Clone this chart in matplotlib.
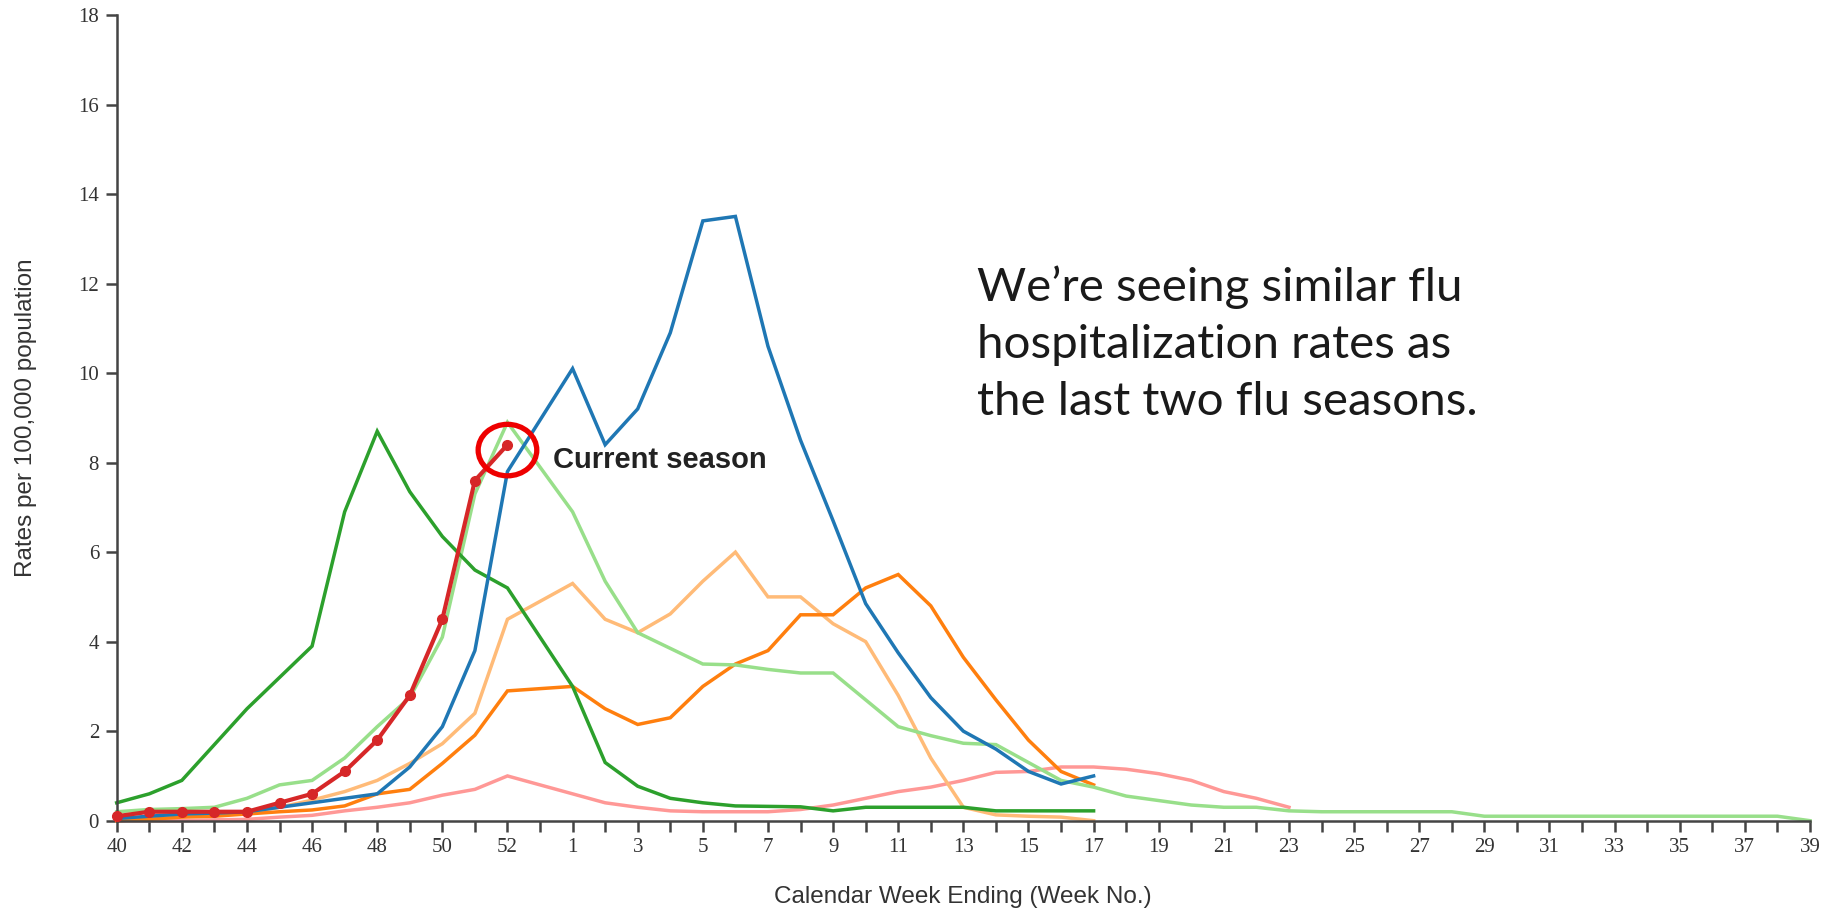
import numpy as np
import matplotlib
matplotlib.use("Agg")
import matplotlib.pyplot as plt
from matplotlib.patches import Ellipse

# x positions: weeks 40..53, 1..39 (53 slots)
weeks = list(range(40, 54)) + list(range(1, 40))

current = [0.1, 0.2, 0.2, 0.2, 0.2, 0.4, 0.6, 1.1, 1.8, 2.8, 4.5, 7.6, 8.4]

dark_green = [0.4, 0.6, 0.9, 1.7, 2.5, 3.2, 3.9, 6.9, 8.7, 7.35, 6.35, 5.6, 5.2, 4.1, 3.0,
              1.3, 0.77, 0.5, 0.4, 0.33, 0.32, 0.31, 0.22, 0.3, 0.3, 0.3, 0.3, 0.22, 0.22, 0.22, 0.22]

blue = [0.05, 0.1, 0.15, 0.17, 0.2, 0.3, 0.4, 0.5, 0.6, 1.2, 2.1, 3.8, 7.8, 8.95, 10.1,
        8.4, 9.2, 10.9, 13.4, 13.5, 10.6, 8.5, 6.7, 4.85, 3.75, 2.75, 2.0, 1.6, 1.1, 0.82, 1.0]

light_green = [0.2, 0.25, 0.27, 0.3, 0.5, 0.8, 0.9, 1.4, 2.1, 2.75, 4.1, 7.3, 8.9, 7.9, 6.9,
               5.35, 4.2, 3.85, 3.5, 3.48, 3.38, 3.3, 3.3, 2.7, 2.1, 1.9, 1.73, 1.7, 1.3, 0.9,
               0.75, 0.55, 0.45, 0.35, 0.3, 0.3, 0.22, 0.2, 0.2, 0.2, 0.2, 0.2, 0.1, 0.1, 0.1,
               0.1, 0.1, 0.1, 0.1, 0.1, 0.1, 0.1, 0.0]

light_orange = [0.02, 0.05, 0.1, 0.12, 0.18, 0.3, 0.46, 0.65, 0.9, 1.28, 1.72, 2.4, 4.5, 4.9, 5.3,
                4.5, 4.2, 4.62, 5.35, 6.0, 5.0, 5.0, 4.4, 4.0, 2.8, 1.4, 0.3, 0.13, 0.1, 0.08, 0.0]

orange = [0.0, 0.03, 0.08, 0.1, 0.15, 0.2, 0.24, 0.33, 0.6, 0.7, 1.28, 1.91, 2.9, 2.95, 3.0,
          2.5, 2.15, 2.3, 3.0, 3.5, 3.8, 4.6, 4.6, 5.2, 5.5, 4.8, 3.65, 2.7, 1.8, 1.1, 0.8]

pink = [0.0, 0.0, 0.0, 0.02, 0.03, 0.08, 0.12, 0.22, 0.3, 0.4, 0.57, 0.7, 1.0, 0.8, 0.6,
        0.4, 0.3, 0.22, 0.2, 0.2, 0.2, 0.25, 0.35, 0.5, 0.65, 0.75, 0.9, 1.08, 1.1, 1.2,
        1.2, 1.15, 1.05, 0.9, 0.65, 0.5, 0.3]

y_ticks = list(range(0, 19, 2))

message_lines = ["We\u2019re seeing similar flu", "hospitalization rates as", "the last two flu seasons."]

W, H = 1829, 910
fig = plt.figure(figsize=(W / 100, H / 100), dpi=100)
L, R, T, B = 116.7, 1810.0, 15.0, 820.7
ax = fig.add_axes([L / W, 1 - B / H, (R - L) / W, (B - T) / H])

x = np.arange(len(weeks))
series = [
    (pink, "#ff9896"),
    (light_orange, "#ffbb78"),
    (orange, "#ff7f0e"),
    (light_green, "#98df8a"),
    (dark_green, "#2ca02c"),
    (blue, "#1f77b4"),
]
for vals, col in series:
    ax.plot(x[:len(vals)], vals, color=col, lw=2.5, solid_joinstyle="miter", clip_on=False, zorder=2)

ax.plot(x[:len(current)], current, color="#d62728", lw=3.0, marker="o", ms=7,
        solid_joinstyle="round", clip_on=False, zorder=4)

ax.add_patch(Ellipse((len(current) - 1, 8.28), width=1.8, height=1.15, fill=False,
                     ec="#ee0000", lw=3.8, zorder=5))
ax.text(13.4, 8.05, "Current season", fontsize=21, fontweight="bold",
        family="Liberation Sans", va="center", ha="left", color="#222222", zorder=6)

ax.set_xlim(0, len(weeks) - 1)
ax.set_ylim(0, 18)
ax.set_xticks(x)
ax.set_xticklabels([str(w) if i % 2 == 0 else "" for i, w in enumerate(weeks)])
ax.set_yticks(y_ticks)
ax.set_yticklabels([str(v) for v in y_ticks])
for s in ["top", "right"]:
    ax.spines[s].set_visible(False)
for s in ["left", "bottom"]:
    ax.spines[s].set_color("#444444")
    ax.spines[s].set_linewidth(1.8)
ax.tick_params(axis="both", length=7.7, width=1.8, color="#444444", labelcolor="#333333",
               labelsize=15, pad=5)
for lab in ax.get_xticklabels() + ax.get_yticklabels():
    lab.set_family("Liberation Serif")

fig.text(26 / W, 1 - 418 / H, "Rates per 100,000 population", rotation=90, ha="center",
         va="center", fontsize=17.5, family="Liberation Sans", color="#333333")
fig.text(963 / W, 1 - 897 / H, "Calendar Week Ending (Week No.)", ha="center", va="center",
         fontsize=17.5, family="Liberation Sans", color="#333333")

# message text, sized so the last line spans ~501 px
baselines = [301, 358, 415]
fs = 34.0
probe = fig.text(0, 0, message_lines[2], fontsize=fs, family="Lato")
fig.canvas.draw()
wpx = probe.get_window_extent().width
probe.remove()
fs = fs * 501.0 / wpx
for line, yb in zip(message_lines, baselines):
    fig.text(977 / W, 1 - yb / H, line, ha="left", va="baseline", fontsize=fs,
             family="Lato", color="#1a1a1a")

fig.savefig("out.png", dpi=100, facecolor="white")
